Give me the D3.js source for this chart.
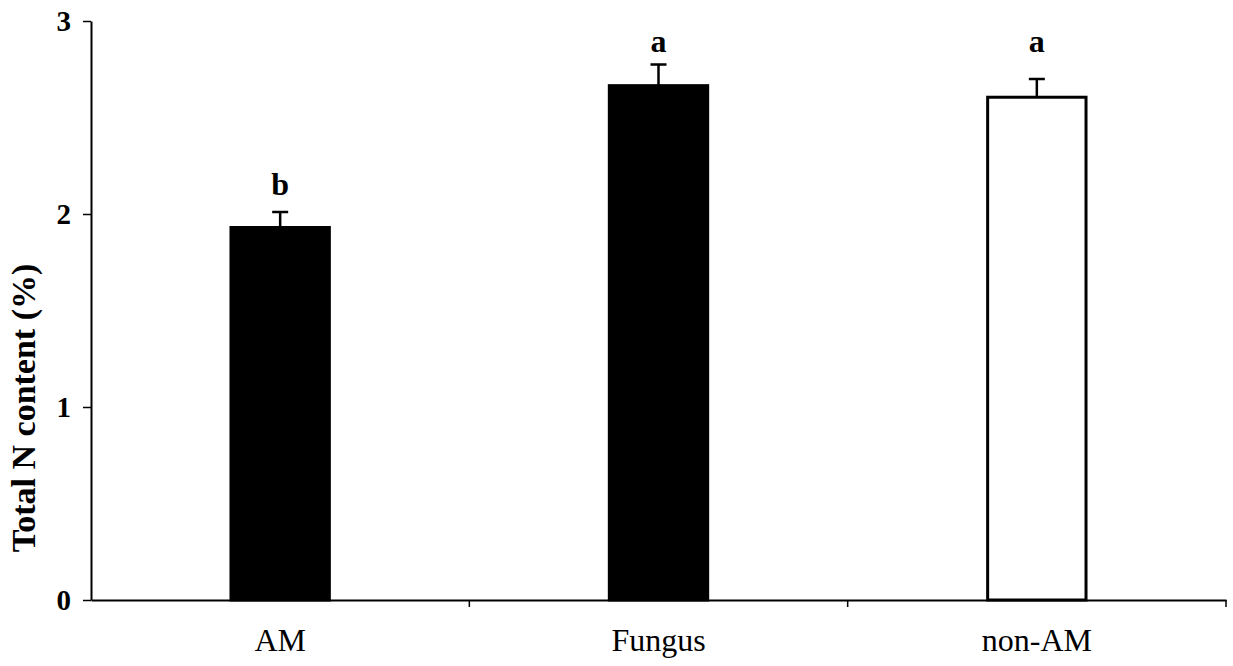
<!DOCTYPE html>
<html>
<head>
<meta charset="utf-8">
<script src="https://cdn.jsdelivr.net/npm/d3@7"></script>
<style>
  body { margin: 0; background: #fff; }
  text { font-family: "Liberation Serif", "Times New Roman", serif; }
</style>
</head>
<body>
<svg id="chart" width="1233" height="666"></svg>
<script>
// DATA
var categories = ["AM", "Fungus", "non-AM"];
var means = [1.93, 2.665, 2.605];
var errors = [0.08, 0.11, 0.095];
var letters = ["b", "a", "a"];
var fills = ["#000", "#000", "#fff"];
var yTicks = [0, 1, 2, 3];

var svg = d3.select("#chart"),
    margin = {top: 21, right: 7, bottom: 66, left: 91},
    width = 1233 - margin.left - margin.right,
    height = 666 - margin.top - margin.bottom;

var g = svg.append("g")
    .attr("transform", "translate(" + margin.left + "," + margin.top + ")");

var x = d3.scaleBand().domain(categories).range([0, width]).padding(0);
var y = d3.scaleLinear().domain([0, 3]).range([height, 0]);
var barW = x.bandwidth() * 0.26;

// bars
g.selectAll(".bar")
    .data(categories)
  .enter().append("rect")
    .attr("x", function(d) { return x(d) + x.bandwidth() / 2 - barW / 2; })
    .attr("y", function(d, i) { return y(means[i]); })
    .attr("width", barW)
    .attr("height", function(d, i) { return y(0) - y(means[i]); })
    .attr("fill", function(d, i) { return fills[i]; })
    .attr("stroke", "#000")
    .attr("stroke-width", 3);

// error bars (upper only)
g.selectAll(".err")
    .data(categories)
  .enter().append("path")
    .attr("fill", "none")
    .attr("stroke", "#000")
    .attr("stroke-width", 2.5)
    .attr("d", function(d, i) {
      var cx = x(d) + x.bandwidth() / 2,
          top = y(means[i] + errors[i]);
      return "M" + cx + "," + y(means[i]) + "V" + top +
             "M" + (cx - 8) + "," + top + "H" + (cx + 8);
    });

// significance letters
var aTop = d3.min(categories, function(d, i) { return y(means[i] + errors[i]); });
g.selectAll(".letter")
    .data(categories)
  .enter().append("text")
    .attr("x", function(d) { return x(d) + x.bandwidth() / 2; })
    .attr("y", function(d, i) {
      return letters[i] === "b" ? y(means[i] + errors[i]) - 17 : aTop - 12;
    })
    .attr("text-anchor", "middle")
    .attr("font-size", 32)
    .attr("font-weight", "bold")
    .text(function(d, i) { return letters[i]; });

// y axis
var yAxis = g.append("g")
    .call(d3.axisLeft(y).tickValues(yTicks).tickFormat(d3.format("d")).tickSize(8).tickSizeOuter(0));
yAxis.select(".domain").attr("stroke-width", 2);
yAxis.selectAll(".tick line").attr("stroke-width", 1.5);
yAxis.selectAll(".tick text")
    .attr("font-size", 29)
    .attr("font-weight", "bold")
    .attr("font-family", "Liberation Serif")
    .attr("x", -20);

// x axis
var xAxis = g.append("g")
    .attr("transform", "translate(0," + height + ")")
    .call(d3.axisBottom(x).tickSize(0).tickSizeOuter(0));
xAxis.select(".domain").attr("stroke-width", 2);
xAxis.selectAll(".tick text")
    .attr("font-size", 32)
    .attr("font-family", "Liberation Serif")
    .attr("dy", 0)
    .attr("y", 51);

// x boundary ticks between categories
g.selectAll(".xb")
    .data(categories)
  .enter().append("line")
    .attr("x1", function(d) { return x(d) + x.bandwidth(); })
    .attr("x2", function(d) { return x(d) + x.bandwidth(); })
    .attr("y1", height)
    .attr("y2", height + 7)
    .attr("stroke", "#000")
    .attr("stroke-width", 1.5);

// y axis title
svg.append("text")
    .attr("transform", "translate(35,408) rotate(-90)")
    .attr("text-anchor", "middle")
    .attr("font-size", 34)
    .attr("font-weight", "bold")
    .text("Total N content (%)");
</script>
</body>
</html>
